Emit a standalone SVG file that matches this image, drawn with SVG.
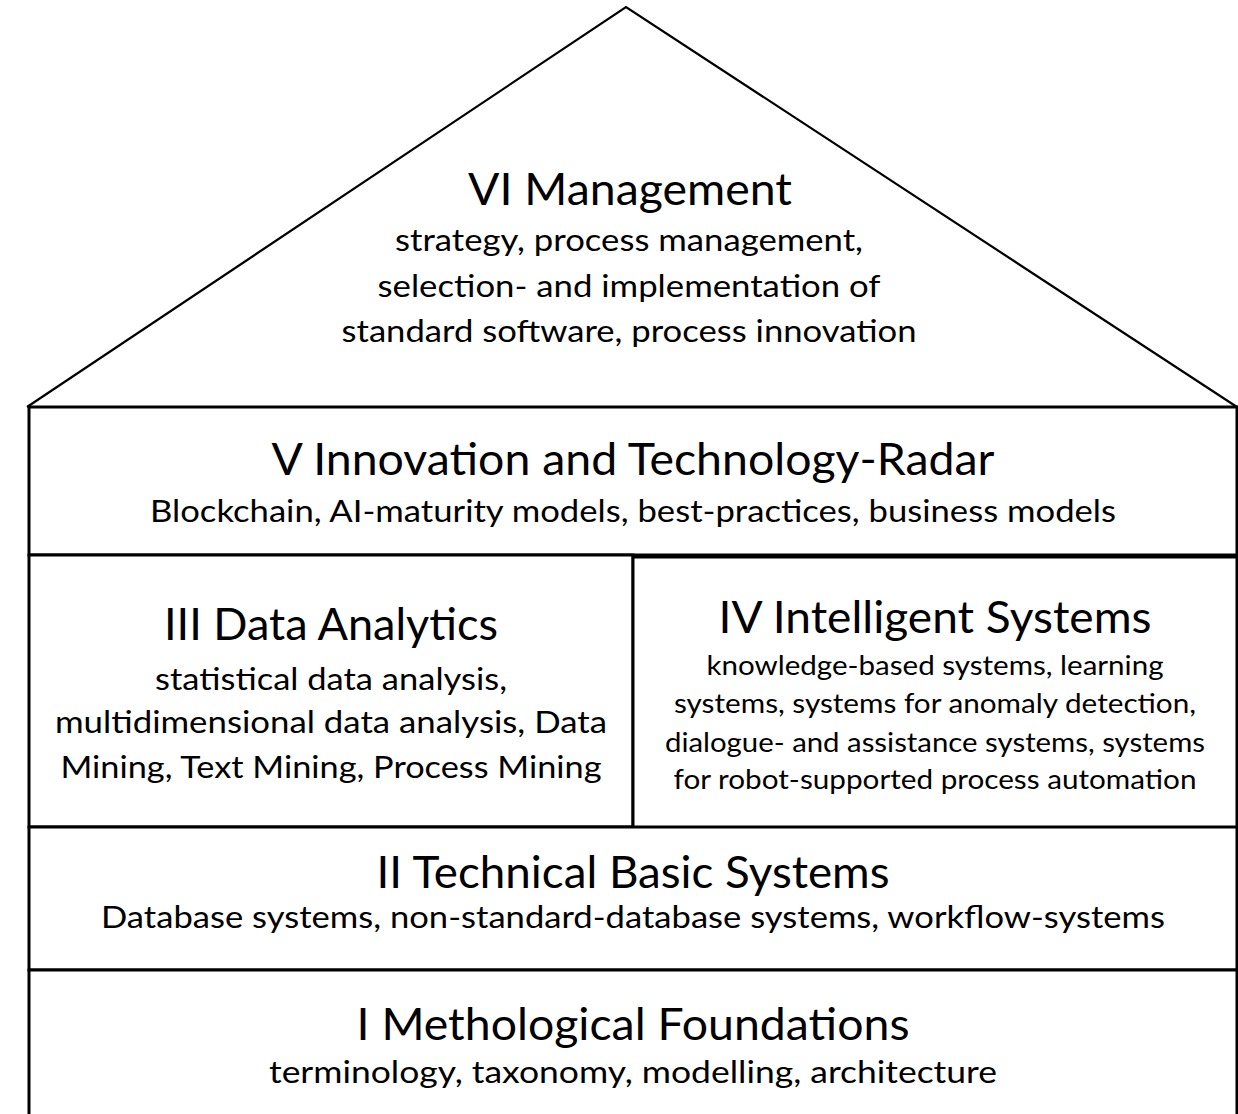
<svg xmlns="http://www.w3.org/2000/svg" width="1238" height="1114" viewBox="0 0 1238 1114">
<style>
.box{fill:#fff;stroke:#000;stroke-width:3}
.roof{fill:#fff;stroke:#000;stroke-width:2.2;stroke-linejoin:miter}
text{font-family:Lato,"Open Sans","Liberation Sans",sans-serif;fill:#000;text-anchor:middle}
.t{font-size:44px}
.s{font-size:30.5px}
.r{font-size:27px}
</style>
<rect width="1238" height="1114" fill="#fff"/>
<g id="node-VI">
<polyline class="roof" points="27,407 626,7 1237,407"/>
<text class="t" x="630" y="205" textLength="324" lengthAdjust="spacingAndGlyphs">VI Management</text>
<text class="s" x="629" y="251" textLength="468" lengthAdjust="spacingAndGlyphs">strategy, process management,</text>
<text class="s" x="629" y="297" textLength="503" lengthAdjust="spacingAndGlyphs">selection- and implementation of</text>
<text class="s" x="629" y="342" textLength="575" lengthAdjust="spacingAndGlyphs">standard software, process innovation</text>
</g>
<g id="node-V">
<rect class="box" x="29" y="407" width="1208" height="148"/>
<text class="t" x="633" y="475" textLength="723" lengthAdjust="spacingAndGlyphs">V Innovation and Technology-Radar</text>
<text class="s" x="633" y="522" textLength="966" lengthAdjust="spacingAndGlyphs">Blockchain, AI-maturity models, best-practices, business models</text>
</g>
<g id="node-III">
<rect class="box" x="29" y="555" width="604" height="272"/>
<text class="t" x="331" y="640" textLength="334" lengthAdjust="spacingAndGlyphs">III Data Analytics</text>
<text class="s" x="331" y="690" textLength="352" lengthAdjust="spacingAndGlyphs">statistical data analysis,</text>
<text class="s" x="331" y="733" textLength="552" lengthAdjust="spacingAndGlyphs">multidimensional data analysis, Data</text>
<text class="s" x="331" y="778" textLength="541" lengthAdjust="spacingAndGlyphs">Mining, Text Mining, Process Mining</text>
</g>
<g id="node-IV">
<rect class="box" x="633" y="557" width="604" height="271"/>
<text class="t" x="935" y="633" textLength="433" lengthAdjust="spacingAndGlyphs">IV Intelligent Systems</text>
<text class="r" x="935" y="675" textLength="457" lengthAdjust="spacingAndGlyphs">knowledge-based systems, learning</text>
<text class="r" x="935" y="713" textLength="522" lengthAdjust="spacingAndGlyphs">systems, systems for anomaly detection,</text>
<text class="r" x="935" y="752" textLength="540" lengthAdjust="spacingAndGlyphs">dialogue- and assistance systems, systems</text>
<text class="r" x="935" y="789" textLength="523" lengthAdjust="spacingAndGlyphs">for robot-supported process automation</text>
</g>
<g id="node-II">
<rect class="box" x="29" y="827" width="1208" height="143"/>
<text class="t" x="633" y="888" textLength="513" lengthAdjust="spacingAndGlyphs">II Technical Basic Systems</text>
<text class="s" x="633" y="928" textLength="1064" lengthAdjust="spacingAndGlyphs">Database systems, non-standard-database systems, workflow-systems</text>
</g>
<g id="node-I">
<rect class="box" x="29" y="970" width="1208" height="160"/>
<text class="t" x="633" y="1040" textLength="553" lengthAdjust="spacingAndGlyphs">I Methological Foundations</text>
<text class="s" x="633" y="1083" textLength="728" lengthAdjust="spacingAndGlyphs">terminology, taxonomy, modelling, architecture</text>
</g>
<g id="connectors"></g>
</svg>
